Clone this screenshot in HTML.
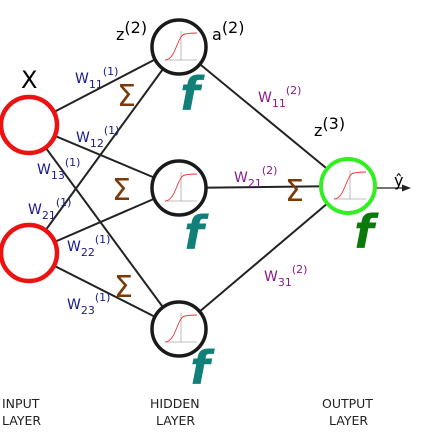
<!DOCTYPE html>
<html><head><meta charset="utf-8"><style>
body{margin:0;background:#fff;width:424px;height:443px;overflow:hidden}
svg{display:block;font-family:"DejaVu Sans","Liberation Sans",sans-serif}
.w{fill:#1a1a8c;font-size:14px}.s{font-size:11px}
.p{fill:#8b1a8b;font-size:14px}
.sig{fill:#7a3a0a;font-size:30px}
.f{fill:#108078;font-size:46px;font-style:italic;font-weight:bold;font-family:"DejaVu Sans",sans-serif}
.lab{font-size:12.5px;fill:#222}
</style></head><body>
<svg width="424" height="443">
<defs>
<g id="sg">
<line x1="-16" y1="13" x2="16" y2="13" stroke="#aaa" stroke-width="0.8"/>
<line x1="0" y1="-16" x2="0" y2="13" stroke="#aaa" stroke-width="0.8"/>
<path d="M-16,13 C-5,13 -4,-12 4,-13 C9,-14 12,-14 16,-14" fill="none" stroke="#e33" stroke-width="0.9"/>
</g>
</defs>
<g stroke="#222" stroke-width="2">
<line x1="29" y1="125" x2="179" y2="47"/><line x1="29" y1="125" x2="179" y2="188"/><line x1="29" y1="125" x2="179" y2="329"/>
<line x1="29" y1="253" x2="179" y2="47"/><line x1="29" y1="253" x2="179" y2="188"/><line x1="29" y1="253" x2="179" y2="329"/>
<line x1="179" y1="47" x2="348" y2="186"/><line x1="179" y1="188" x2="348" y2="186"/><line x1="179" y1="329" x2="348" y2="186"/>
<line x1="376" y1="188" x2="404" y2="188" stroke-width="1.3"/>
</g>
<polygon points="411,188 402,184.5 402,191.5" fill="#222"/>
<circle cx="29" cy="125" r="28" fill="#fff" stroke="#ee1111" stroke-width="4.5"/>
<circle cx="29" cy="253" r="28" fill="#fff" stroke="#ee1111" stroke-width="4.5"/>
<g><circle cx="179" cy="47" r="27" fill="#fff" stroke="#1a1a1a" stroke-width="3.5"/><use href="#sg" x="181" y="47"/></g>
<g><circle cx="179" cy="188" r="27" fill="#fff" stroke="#1a1a1a" stroke-width="3.5"/><use href="#sg" x="181" y="188"/></g>
<g><circle cx="179" cy="329" r="27" fill="#fff" stroke="#1a1a1a" stroke-width="3.5"/><use href="#sg" x="181" y="329"/></g>
<g><circle cx="348" cy="186" r="27" fill="#fff" stroke="#33ee22" stroke-width="4"/><use href="#sg" x="350" y="186"/></g>
<text x="21" y="88" font-size="24">X</text>
<text x="116" y="40" font-size="16">z<tspan dy="-7">(2)</tspan></text>
<text x="212" y="40" font-size="16">a<tspan dy="-7">(2)</tspan></text>
<text x="314" y="136" font-size="16">z<tspan dy="-7">(3)</tspan></text>
<text x="394" y="186" font-size="16">ŷ</text>
<g>
<text class="w" x="75" y="83">W<tspan class="s" dy="5">11</tspan><tspan class="s" dy="-13">(1)</tspan></text>
<text class="w" x="76" y="142">W<tspan class="s" dy="5">12</tspan><tspan class="s" dy="-13">(1)</tspan></text>
<text class="w" x="37" y="174">W<tspan class="s" dy="5">13</tspan><tspan class="s" dy="-13">(1)</tspan></text>
<text class="w" x="28" y="214">W<tspan class="s" dy="5">21</tspan><tspan class="s" dy="-13">(1)</tspan></text>
<text class="w" x="67" y="251">W<tspan class="s" dy="5">22</tspan><tspan class="s" dy="-13">(1)</tspan></text>
<text class="w" x="67" y="309">W<tspan class="s" dy="5">23</tspan><tspan class="s" dy="-13">(1)</tspan></text>
</g>
<g>
<text class="p" x="258" y="102">W<tspan class="s" dy="5">11</tspan><tspan class="s" dy="-13">(2)</tspan></text>
<text class="p" x="234" y="182">W<tspan class="s" dy="5">21</tspan><tspan class="s" dy="-13">(2)</tspan></text>
<text class="p" x="264" y="281">W<tspan class="s" dy="5">31</tspan><tspan class="s" dy="-13">(2)</tspan></text>
</g>
<g>
<text class="sig" x="117" y="106">Σ</text><text class="sig" x="112" y="200">Σ</text>
<text class="sig" x="114" y="297">Σ</text><text class="sig" x="285" y="201">Σ</text>
</g>
<g>
<text class="f" x="180" y="110">f</text><text class="f" x="184" y="249">f</text>
<text class="f" x="190" y="384">f</text><text class="f" x="354" y="248" style="fill:#0a7a0a">f</text>
</g>
<g>
<text class="lab" x="2" y="408">INPUT</text><text class="lab" x="2" y="425">LAYER</text>
<text class="lab" x="150" y="408">HIDDEN</text><text class="lab" x="156" y="425">LAYER</text>
<text class="lab" x="322" y="408">OUTPUT</text><text class="lab" x="329" y="425">LAYER</text>
</g>
</svg>
</body></html>
